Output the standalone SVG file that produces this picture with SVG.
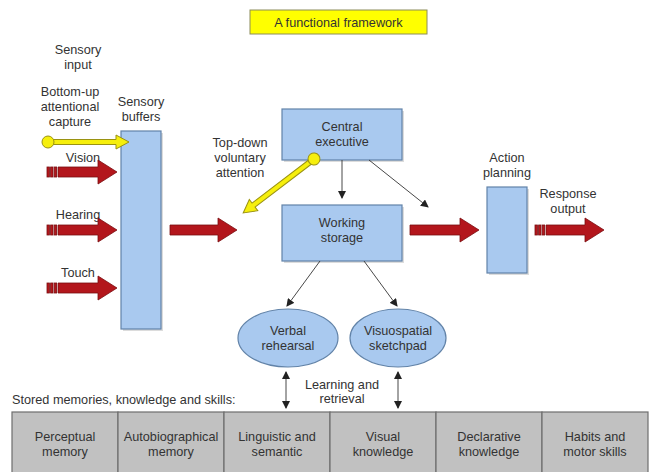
<svg xmlns="http://www.w3.org/2000/svg" width="649" height="472" viewBox="0 0 649 472">
<style>
text{font-family:"Liberation Sans",Arial,sans-serif;font-size:12.7px;fill:#333;text-anchor:middle}
.l{text-anchor:start}
.box{fill:#a9c9ef;stroke:#6283a8;stroke-width:1.2}
.sh{fill:#dcdcdc}
.red{fill:#b3161c;stroke:#7a0d10;stroke-width:0.8}
.yel{fill:#f6ef0c;stroke:#9a9212;stroke-width:1}
.thin{stroke:#333;stroke-width:0.9;fill:none}
.mem{fill:#c1c1c1;stroke:#6e6e6e;stroke-width:1.2}
</style>
<defs>
<marker id="ah" markerWidth="8" markerHeight="8" refX="7" refY="4" orient="auto" markerUnits="userSpaceOnUse">
<path d="M0,0 L8,4 L0,8 Z" fill="#222"/>
</marker>
<marker id="ahs" markerWidth="8" markerHeight="8" refX="1" refY="4" orient="auto" markerUnits="userSpaceOnUse">
<path d="M8,0 L0,4 L8,8 Z" fill="#222"/>
</marker>
<g id="stripes">
<rect x="0" y="-5" width="2.4" height="10" class="red"/>
<rect x="3.6" y="-5" width="2.4" height="10" class="red"/>
<rect x="7.2" y="-5" width="2.4" height="10" class="red"/>
</g>
</defs>

<g id="title">
<rect x="250" y="10" width="177" height="24" fill="#ffff00" stroke="#8c8c5a" stroke-width="1"/>
<text x="338.5" y="26.5">A functional framework</text>
</g>

<g id="labels">
<text x="78" y="54">Sensory</text>
<text x="78" y="69">input</text>
<text x="70" y="96">Bottom-up</text>
<text x="70" y="111">attentional</text>
<text x="70" y="126">capture</text>
<text x="83" y="162">Vision</text>
<text x="78" y="219">Hearing</text>
<text x="78" y="277">Touch</text>
<text x="141" y="106">Sensory</text>
<text x="141" y="121">buffers</text>
<text x="240" y="147">Top-down</text>
<text x="240" y="162">voluntary</text>
<text x="240" y="177">attention</text>
<text x="507" y="162">Action</text>
<text x="507" y="177">planning</text>
<text x="568" y="198">Response</text>
<text x="568" y="213">output</text>
<text x="342" y="389">Learning and</text>
<text x="342" y="403">retrieval</text>
<text class="l" x="12" y="404">Stored memories, knowledge and skills:</text>
</g>

<g id="sensory-buffers">
<rect class="sh" x="123" y="133" width="40" height="198"/>
<rect class="box" x="121" y="131" width="40" height="198"/>
</g>

<g id="central-executive">
<rect class="sh" x="284" y="111" width="120" height="51"/>
<rect class="box" x="282" y="109" width="120" height="51"/>
<text x="342" y="131">Central</text>
<text x="342" y="146">executive</text>
</g>

<g id="working-storage">
<rect class="sh" x="284" y="207" width="120" height="56"/>
<rect class="box" x="282" y="205" width="120" height="56"/>
<text x="342" y="227">Working</text>
<text x="342" y="242">storage</text>
</g>

<g id="action-planning">
<rect class="sh" x="489" y="189" width="40" height="86"/>
<rect class="box" x="487" y="187" width="40" height="86"/>
</g>

<g id="verbal-rehearsal">
<ellipse class="box" cx="288" cy="338" rx="50" ry="29"/>
<text x="288" y="335">Verbal</text>
<text x="288" y="350">rehearsal</text>
</g>

<g id="visuospatial-sketchpad">
<ellipse class="box" cx="398" cy="338" rx="48" ry="29"/>
<text x="398" y="335">Visuospatial</text>
<text x="398" y="350">sketchpad</text>
</g>

<g id="stored-memories">
<rect class="mem" x="12" y="412" width="106" height="62"/>
<rect class="mem" x="118" y="412" width="106" height="62"/>
<rect class="mem" x="224" y="412" width="106" height="62"/>
<rect class="mem" x="330" y="412" width="106" height="62"/>
<rect class="mem" x="436" y="412" width="106" height="62"/>
<rect class="mem" x="542" y="412" width="106" height="62"/>
<text x="65" y="441">Perceptual</text>
<text x="65" y="456">memory</text>
<text x="171" y="441">Autobiographical</text>
<text x="171" y="456">memory</text>
<text x="277" y="441">Linguistic and</text>
<text x="277" y="456">semantic</text>
<text x="383" y="441">Visual</text>
<text x="383" y="456">knowledge</text>
<text x="489" y="441">Declarative</text>
<text x="489" y="456">knowledge</text>
<text x="595" y="441">Habits and</text>
<text x="595" y="456">motor skills</text>
</g>

<g id="connectors">
<use href="#stripes" x="47" y="172"/>
<path class="red" d="M58,167 H98 V160 L117,172 L98,184 V177 H58 Z"/>
<use href="#stripes" x="47" y="230"/>
<path class="red" d="M58,225 H98 V218 L117,230 L98,242 V235 H58 Z"/>
<use href="#stripes" x="47" y="288"/>
<path class="red" d="M58,283 H98 V276 L117,288 L98,300 V293 H58 Z"/>
<path class="red" d="M170,225 H218 V218 L237,230 L218,242 V235 H170 Z"/>
<path class="red" d="M410,225 H460 V218 L479,230 L460,242 V235 H410 Z"/>
<use href="#stripes" x="535" y="230"/>
<path class="red" d="M546,225 H585 V218 L604,230 L585,242 V235 H546 Z"/>
<path class="yel" d="M48,139.5 H116 V135 L129,142 L116,149 V144.5 H48 Z"/>
<circle class="yel" cx="48" cy="142" r="6"/>
<g transform="translate(314,159) rotate(142.7)">
<path class="yel" d="M0,-2.5 H76 V-7 L89,0 L76,7 V2.5 H0 Z"/>
<circle class="yel" cx="0" cy="0" r="6"/>
</g>
<line class="thin" x1="342" y1="160" x2="342" y2="198" marker-end="url(#ah)"/>
<line class="thin" x1="369" y1="160" x2="428" y2="207" marker-end="url(#ah)"/>
<line class="thin" x1="320" y1="261" x2="287" y2="306" marker-end="url(#ah)"/>
<line class="thin" x1="364" y1="261" x2="397" y2="306" marker-end="url(#ah)"/>
<line class="thin" x1="286" y1="372" x2="286" y2="408" marker-start="url(#ahs)" marker-end="url(#ah)"/>
<line class="thin" x1="398" y1="372" x2="398" y2="408" marker-start="url(#ahs)" marker-end="url(#ah)"/>
</g>
</svg>
